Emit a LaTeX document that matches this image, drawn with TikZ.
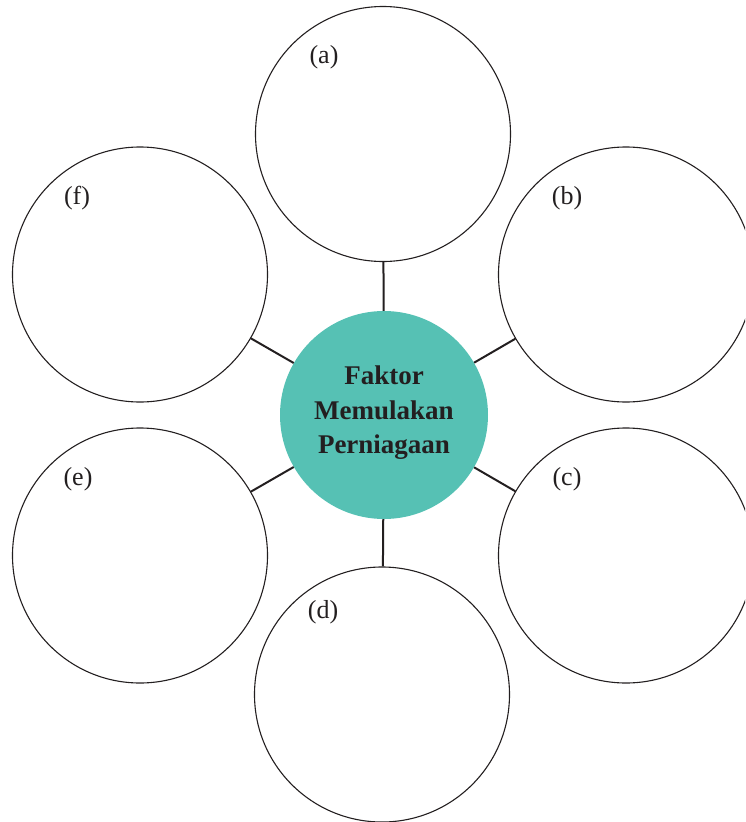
\documentclass[tikz,border=0pt]{standalone}
\usepackage{fontspec}
\setmainfont{Liberation Serif}
\definecolor{teal1}{RGB}{86,193,180}
\definecolor{ink}{RGB}{35,31,32}
\begin{document}
\begin{tikzpicture}[x=1pt,y=-1pt,
  outer/.style={circle,draw=ink,line width=1.1pt,minimum size=255pt,inner sep=0pt},
  hub/.style={circle,fill=teal1,minimum size=208pt,inner sep=0pt},
  conn/.style={draw=ink,line width=2pt},
  lbl/.style={font=\fontsize{26}{30}\selectfont,text=ink,inner sep=0pt}]
\useasboundingbox (0,0) rectangle (745,822);
\clip (0,0) rectangle (745,822);
\node[hub] (hub) at (384,415) {};
\node[outer] (a) at (383,134) {};
\node[outer] (b) at (626,274.5) {};
\node[outer] (c) at (626,555.5) {};
\node[outer] (d) at (382,694.5) {};
\node[outer] (e) at (140,555.5) {};
\node[outer] (f) at (140,274.5) {};
\foreach \n in {a,b,c,d,e,f}{\draw[conn] (hub) -- (\n);}
\node[font=\bfseries\fontsize{27}{34.5}\selectfont,text=ink,align=center] (t) at (384,413) {Faktor\\Memulakan\\Perniagaan};
\node[lbl] (la) at (324,57) {(a)};
\node[lbl] (lb) at (567,198) {(b)};
\node[lbl] (lc) at (567,479) {(c)};
\node[lbl] (ld) at (323,612) {(d)};
\node[lbl] (le) at (78,479) {(e)};
\node[lbl] (lf) at (77,198) {(f)};
\end{tikzpicture}
\end{document}
